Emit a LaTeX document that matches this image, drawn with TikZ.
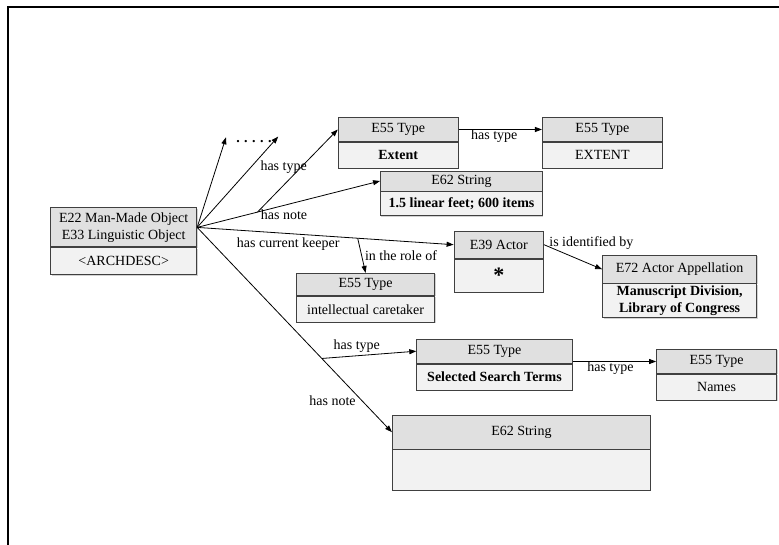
\documentclass[tikz,border=0pt]{standalone}
\usepackage{fontspec}
\setmainfont{Liberation Serif}
\usetikzlibrary{positioning,arrows.meta,calc,shadows}
\definecolor{clshead}{HTML}{E0E0E0}
\definecolor{clsbody}{HTML}{F2F2F2}
\definecolor{clsline}{HTML}{404040}

\begin{document}
\begin{tikzpicture}[
  x=1pt, y=-1pt,
  font=\fontsize{14}{17}\selectfont,
  chead/.style={draw=clsline, line width=0.9pt, fill=clshead, align=center, inner sep=0pt,
                minimum height=24pt,
                drop shadow={shadow xshift=0.9pt, shadow yshift=-0.9pt, fill=black!35}},
  cbody/.style={chead, fill=clsbody, anchor=north, minimum height=26pt},
  arr/.style={-{Triangle[length=7pt,width=5pt]}, line width=0.8pt},
  lab/.style={inner sep=1pt, align=center}
]
% ================= page frame =================
\useasboundingbox (0,0) rectangle (779,545);
\draw[line width=2pt] (779,7.5) -| (8,545);
% ================= the archival description =================
\node[chead, minimum width=146pt, minimum height=39pt] (obj) at (123.7,227.4)
  {E22 Man-Made Object\\E33 Linguistic Object};
\node[cbody, minimum width=146pt, minimum height=27pt] (objb) at (obj.south) {<ARCHDESC>};
% ================= extent row =================
\node[chead, minimum width=120pt] (ext) at (398.2,129.5) {E55 Type};
\node[cbody, minimum width=120pt] (extb) at (ext.south) {\textbf{Extent}};
\node[chead, minimum width=120pt] (extv) at (602.4,129.5) {E55 Type};
\node[cbody, minimum width=120pt] (extvb) at (extv.south) {EXTENT};
\node[chead, minimum width=162pt, minimum height=20pt] (str1) at (461.5,181) {E62 String};
\node[cbody, minimum width=162pt, minimum height=24pt] (str1b) at (str1.south)
  {\textbf{1.5 linear feet; 600 items}};
% ================= keeper row =================
\node[chead, minimum width=89.5pt, minimum height=27pt] (act) at (498.8,244.7) {E39 Actor};
\node[cbody, minimum width=89.5pt, minimum height=33pt] (actb) at (act.south)
  {\raisebox{-6pt}{\fontsize{22}{22}\selectfont\textbf{*}}};
\node[chead, minimum width=154pt, minimum height=27.5pt] (appel) at (679.6,269.3)
  {E72 Actor Appellation};
\node[cbody, minimum width=154pt, minimum height=34pt] (appelb) at (appel.south)
  {\textbf{Manuscript Division,}\\\textbf{Library of Congress}};
\node[chead, minimum width=138pt, minimum height=22pt] (role) at (365.6,284.4) {E55 Type};
\node[cbody, minimum width=138pt] (roleb) at (role.south) {intellectual caretaker};
% ================= search terms and note =================
\node[chead, minimum width=155.5pt] (sel) at (494.5,351.2) {E55 Type};
\node[cbody, minimum width=155.5pt] (selb) at (sel.south) {\textbf{Selected Search Terms}};
\node[chead, minimum width=120pt] (names) at (716.6,361.5) {E55 Type};
\node[cbody, minimum width=120pt] (namesb) at (names.south) {Names};
\node[chead, minimum width=258pt, minimum height=33.6pt] (str2) at (521.4,432.2) {E62 String};
\node[cbody, minimum width=258pt, minimum height=40.4pt] (str2b) at (str2.south) {};
% ----- elided properties -----
\node[lab] (dots) at (254,141.5)
  {\textbf{.\hspace{4.5pt}.\hspace{4.5pt}.\hspace{4.5pt}.\hspace{4.5pt}.}};
\coordinate (tipa) at (226,137.3);
\coordinate (tipb) at (278.2,136.6);
\foreach \t in {tipa,tipb}{\draw[arr] (obj.east) -- (\t);}
% ================= properties =================
\draw[arr] (obj.east) -- node[lab, pos=0.475, yshift=-9pt] (lnotea) {has note} (str1.west);
\coordinate (nta) at ($(obj.east)!0.33!(str1.west)$);
\draw[arr] (nta) -- node[lab, pos=0.55, xshift=-18pt] (ltypea) {has type} (ext.west);
\draw[arr] (ext.east) -- node[lab, midway, yshift=-7pt, xshift=-6pt] (ltypeb) {has type} (extv.west);
% ----- keeper -----
\draw[arr] (obj.east) -- node[lab, pos=0.355, yshift=-11pt] (lkeep) {has current keeper} (act.west);
\coordinate (kp) at ($(obj.east)!0.626!(act.west)$);
\draw[arr] (kp) -- node[lab, midway, right=2pt] (lrole) {in the role of} (role.north);
\draw[arr] (act.east) -- node[lab, pos=0, anchor=west, xshift=4pt, yshift=2pt] (lident)
  {is identified by} (appel.west);
% ----- lower note -----
\draw[arr] (obj.east) -- node[lab, pos=0.844, xshift=-29pt] (lnoteb) {has note} (str2.west);
\coordinate (ntb) at ($(obj.east)!0.64!(str2.west)$);
\draw[arr] (ntb) -- node[lab, pos=0.37, yshift=10pt] (ltypec) {has type} (sel.west);
\draw[arr] (names.west -| sel.east) -- node[lab, midway, yshift=-7pt, xshift=-4pt] (ltyped)
  {has type} (names.west);
\end{tikzpicture}
\end{document}
